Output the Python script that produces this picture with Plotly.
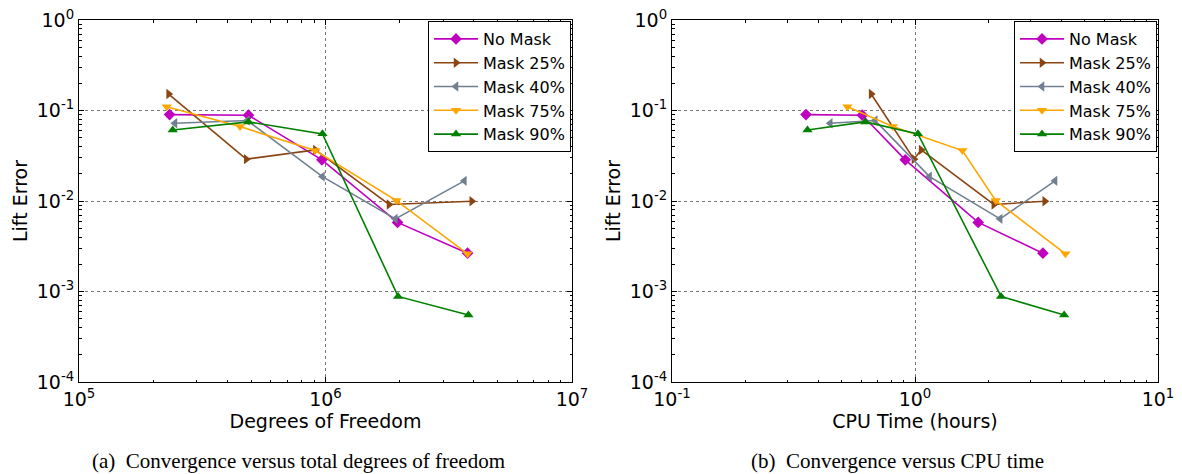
import plotly.graph_objects as go

# Run labels and styling
series_names = ["No Mask", "Mask 25%", "Mask 40%", "Mask 75%", "Mask 90%"]

# Degrees of freedom per run
dof_no_mask = [2.33e5, 4.87e5, 9.67e5, 1.96e6, 3.77e6]
dof_mask25 = [2.31e5, 4.77e5, 9.1e5, 1.81e6, 3.92e6]
dof_mask40 = [2.45e5, 4.82e5, 9.72e5, 1.92e6, 3.66e6]
dof_mask75 = [2.27e5, 4.50e5, 9.08e5, 1.94e6, 3.77e6]
dof_mask90 = [2.40e5, 4.87e5, 9.72e5, 1.97e6, 3.80e6]

# CPU time per run (hours)
cpu_no_mask = [0.356, 0.607, 0.912, 1.82, 3.36]
cpu_mask25 = [0.660, 0.990, 1.06, 2.11, 3.42]
cpu_mask40 = [0.448, 0.686, 1.148, 2.24, 3.77]
cpu_mask75 = [0.527, 0.811, 1.567, 2.15, 4.16]
cpu_mask90 = [0.361, 0.624, 1.028, 2.26, 4.11]

# Lift error per run (same runs in both panels)
err_no_mask = [0.0901, 0.0887, 0.0285, 0.0058, 0.00265]
err_mask25 = [0.152, 0.029, 0.0367, 0.00915, 0.00995]
err_mask40 = [0.0723, 0.0774, 0.0186, 0.00635, 0.0167]
err_mask75 = [0.110, 0.0664, 0.0361, 0.0101, 0.00261]
err_mask90 = [0.0610, 0.0748, 0.0552, 0.000882, 0.000549]

# Axis tick labels
dof_ticks = [1e5, 1e6, 1e7]
dof_ticktext = ["10<sup>5</sup>", "10<sup>6</sup>", "10<sup>7</sup>"]
cpu_ticks = [0.1, 1, 10]
cpu_ticktext = ["10<sup>-1</sup>", "10<sup>0</sup>", "10<sup>1</sup>"]
err_ticks = [1e-4, 1e-3, 1e-2, 1e-1, 1]
err_ticktext = ["10<sup>-4</sup>", "10<sup>-3</sup>", "10<sup>-2</sup>", "10<sup>-1</sup>", "10<sup>0</sup>"]

x_title_left = "Degrees of Freedom"
x_title_right = "CPU Time (hours)"
y_title = "Lift Error"
caption_a = "(a)  Convergence versus total degrees of freedom"
caption_b = "(b)  Convergence versus CPU time"

colors = ["#bf00bf", "#8b4513", "#708090", "#ffa500", "#008000"]
symbols = ["diamond", "triangle-right", "triangle-left", "triangle-down", "triangle-up"]

dof_data = [dof_no_mask, dof_mask25, dof_mask40, dof_mask75, dof_mask90]
cpu_data = [cpu_no_mask, cpu_mask25, cpu_mask40, cpu_mask75, cpu_mask90]
err_data = [err_no_mask, err_mask25, err_mask40, err_mask75, err_mask90]

W, H = 1182, 474
fig = go.Figure()

for name, c, s, xd, yd in zip(series_names, colors, symbols, dof_data, err_data):
    fig.add_trace(go.Scatter(
        x=xd, y=yd, name=name, mode="lines+markers",
        line=dict(color=c, width=1.6),
        marker=dict(symbol=s, size=9, color=c, line=dict(width=0)),
        xaxis="x", yaxis="y", legend="legend",
    ))

for name, c, s, xd, yd in zip(series_names, colors, symbols, cpu_data, err_data):
    fig.add_trace(go.Scatter(
        x=xd, y=yd, name=name, mode="lines+markers",
        line=dict(color=c, width=1.6),
        marker=dict(symbol=s, size=9, color=c, line=dict(width=0)),
        xaxis="x2", yaxis="y2", legend="legend2",
    ))

tick_font = dict(family="DejaVu Sans", size=19, color="black")
title_font = dict(family="DejaVu Sans", size=19, color="black")
legend_font = dict(family="DejaVu Sans", size=16, color="black")


def minor_vals(lo, hi):
    vals = []
    for k in range(lo, hi):
        for m in range(2, 10):
            vals.append(m * 10.0 ** k)
    return vals


common_axis = dict(
    type="log", showline=True, linecolor="black", linewidth=1, mirror="allticks",
    ticks="inside", ticklen=5, tickcolor="black", tickwidth=1,
    showgrid=True, gridcolor="#777777", griddash="dot", gridwidth=0.8,
    zeroline=False, tickfont=tick_font, tickmode="array", automargin=False,
)

minor_style = dict(tickmode="array", ticks="inside", ticklen=2.5,
                   tickcolor="black", showgrid=False)

legend_style = dict(xanchor="right", yanchor="top", bgcolor="white",
                    bordercolor="black", borderwidth=1, font=legend_font,
                    itemwidth=44)

fig.update_layout(
    width=W, height=H,
    margin=dict(l=0, r=0, t=0, b=0),
    paper_bgcolor="white", plot_bgcolor="white",
    font=dict(family="DejaVu Sans", color="black"),
    xaxis=dict(common_axis, domain=[79 / W, 572 / W], range=[5, 7],
               tickvals=dof_ticks, ticktext=dof_ticktext,
               minor=dict(minor_style, tickvals=minor_vals(5, 7)),
               title=dict(text=x_title_left, font=title_font, standoff=2),
               anchor="y"),
    yaxis=dict(common_axis, domain=[(H - 382) / H, (H - 20) / H], range=[-4, 0],
               tickvals=err_ticks, ticktext=err_ticktext,
               minor=dict(minor_style, tickvals=minor_vals(-4, 0)),
               title=dict(text=y_title, font=title_font, standoff=4),
               anchor="x"),
    xaxis2=dict(common_axis, domain=[672 / W, 1158 / W], range=[-1, 1],
                tickvals=cpu_ticks, ticktext=cpu_ticktext,
                minor=dict(minor_style, tickvals=minor_vals(-1, 1)),
                title=dict(text=x_title_right, font=title_font, standoff=2),
                anchor="y2"),
    yaxis2=dict(common_axis, domain=[(H - 382) / H, (H - 20) / H], range=[-4, 0],
                tickvals=err_ticks, ticktext=err_ticktext,
                minor=dict(minor_style, tickvals=minor_vals(-4, 0)),
                title=dict(text=y_title, font=title_font, standoff=4),
                anchor="x2"),
    legend=dict(legend_style, x=571 / W, y=(H - 21) / H),
    legend2=dict(legend_style, x=1157 / W, y=(H - 21) / H),
    annotations=[
        dict(text=caption_a, x=298 / W, y=(H - 461) / H, xref="paper", yref="paper",
             showarrow=False, xanchor="center", yanchor="middle",
             font=dict(family="Liberation Serif", size=21, color="black")),
        dict(text=caption_b, x=897 / W, y=(H - 461) / H, xref="paper", yref="paper",
             showarrow=False, xanchor="center", yanchor="middle",
             font=dict(family="Liberation Serif", size=21, color="black")),
    ],
)

fig.write_html("out.html")
